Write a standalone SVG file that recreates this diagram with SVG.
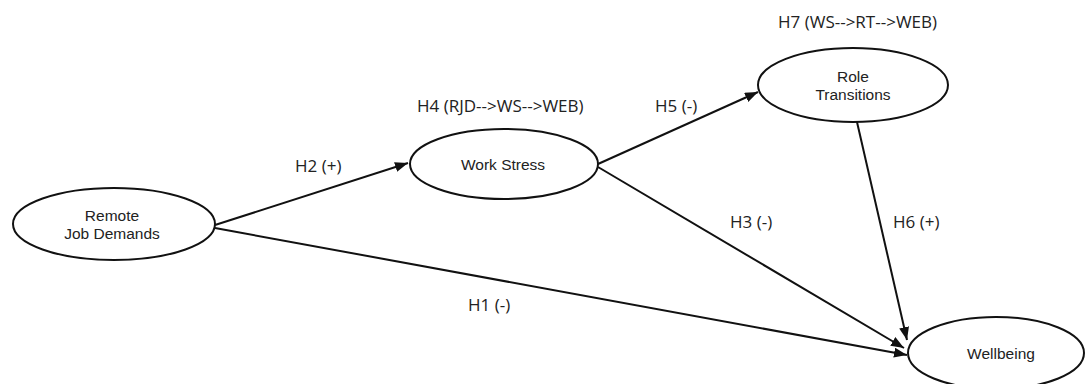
<svg xmlns="http://www.w3.org/2000/svg" width="1086" height="384" viewBox="0 0 1086 384">
<defs>
<style>
.node ellipse{fill:#fff;stroke:#111;stroke-width:2}
.node text{font-family:"Liberation Sans",Arial,sans-serif;font-size:15.5px;fill:#222;text-anchor:middle}
.lbl{font-family:"Open Sans","Liberation Sans",sans-serif;font-size:17px;fill:#222}
#connectors line{stroke:#111;stroke-width:2;marker-end:url(#arr)}
</style>
<marker id="arr" markerUnits="userSpaceOnUse" markerWidth="14" markerHeight="12" refX="13" refY="5" orient="auto">
<path d="M0,0 L13,5 L0,10 Z" fill="#111"/>
</marker>
</defs>
<rect width="1086" height="384" fill="#fff"/>
<g id="connectors">
<line x1="215" y1="225" x2="408" y2="163"/>
<line x1="215" y1="228" x2="907" y2="355"/>
<line x1="598" y1="164" x2="758" y2="92"/>
<line x1="598" y1="167" x2="904" y2="348"/>
<line x1="857" y1="122" x2="907" y2="340"/>
</g>
<g id="rjd" class="node">
<ellipse cx="114" cy="224" rx="101" ry="36"/>
<text x="112" y="221">Remote</text>
<text x="112" y="239">Job Demands</text>
</g>
<g id="ws" class="node">
<ellipse cx="504" cy="164" rx="94" ry="35"/>
<text x="503" y="170">Work Stress</text>
</g>
<g id="rt" class="node">
<ellipse cx="853" cy="85" rx="95" ry="37"/>
<text x="853" y="82">Role</text>
<text x="853" y="100">Transitions</text>
</g>
<g id="web" class="node">
<ellipse cx="996" cy="353" rx="88" ry="36"/>
<text x="1001" y="359">Wellbeing</text>
</g>
<g id="labels">
<text class="lbl" x="295" y="172">H2 (+)</text>
<text class="lbl" x="417" y="112">H4 (RJD--&gt;WS--&gt;WEB)</text>
<text class="lbl" x="655" y="112">H5 (-)</text>
<text class="lbl" x="778" y="28">H7 (WS--&gt;RT--&gt;WEB)</text>
<text class="lbl" x="730" y="228">H3 (-)</text>
<text class="lbl" x="893" y="228">H6 (+)</text>
<text class="lbl" x="468" y="311">H1 (-)</text>
</g>
</svg>
